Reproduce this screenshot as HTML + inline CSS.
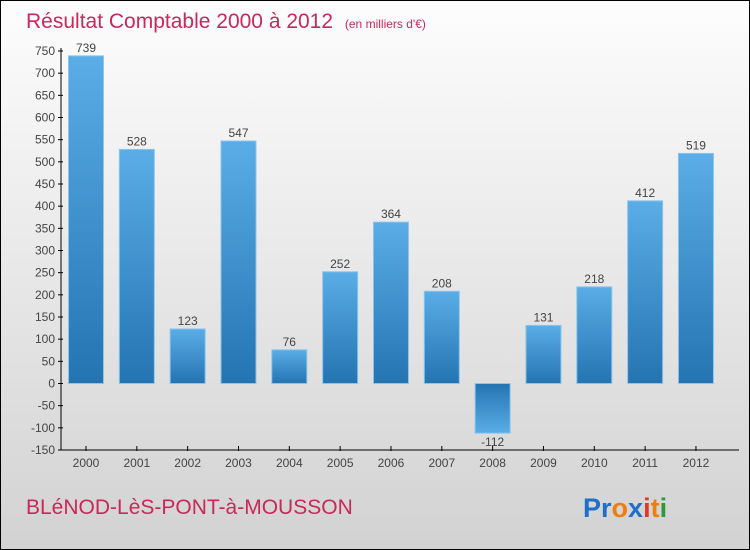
<!DOCTYPE html>
<html><head><meta charset="utf-8"><style>
html,body{margin:0;padding:0}
body{width:750px;height:550px;overflow:hidden;font-family:"Liberation Sans",sans-serif}
#wrap{position:relative;width:748px;height:548px;border:1px solid #000;background:linear-gradient(#fdfdfd,#d2d2d2)}
</style></head><body>
<div id="wrap">
<svg id="chart" width="748" height="548" style="position:absolute;left:0;top:0">
<defs>
<linearGradient id="bg" x1="0" y1="0" x2="0" y2="1"><stop offset="0" stop-color="#5aade6"/><stop offset="1" stop-color="#2474b2"/></linearGradient>
<linearGradient id="bgn" x1="0" y1="0" x2="0" y2="1"><stop offset="0" stop-color="#2474b2"/><stop offset="1" stop-color="#5aade6"/></linearGradient>
</defs>
<text x="25" y="27" font-size="21" fill="#c8285a">Résultat Comptable 2000 à 2012 <tspan font-size="12" dx="6">(en milliers d'€)</tspan></text>
<text x="25" y="513" font-size="21" fill="#c8285a">BLéNOD-LèS-PONT-à-MOUSSON</text>
<text x="582" y="516" font-size="27" font-weight="bold"><tspan fill="#1f6fc8">Pr</tspan><tspan fill="#f07d10">o</tspan><tspan fill="#1f6fc8">x</tspan><tspan fill="#e8351f">i</tspan><tspan fill="#f07d10">t</tspan><tspan fill="#2a9a3a">i</tspan></text>
<g id="plot"></g>
</svg>
</div>
<script>
const years=["2000","2001","2002","2003","2004","2005","2006","2007","2008","2009","2010","2011","2012"];
const values=[739,528,123,547,76,252,364,208,-112,131,218,412,519];
const ticks=[750,700,650,600,550,500,450,400,350,300,250,200,150,100,50,0,-50,-100,-150];
const NS="http://www.w3.org/2000/svg";
const g=document.getElementById('plot');
const y=v=>382.5-(v)*(332.5/750);
const x=i=>85+i*50.83;
function mk(t,a){const e=document.createElementNS(NS,t);for(const k in a)e.setAttribute(k,a[k]);g.appendChild(e);return e;}
let ax=mk('line',{x1:60,y1:y(750)-3,x2:60,y2:y(-150),stroke:'#000'});


let xa=mk('line',{x1:60,y1:y(-150),x2:738,y2:y(-150),stroke:'#000'});


ticks.forEach(t=>{
 mk('line',{x1:57,x2:62,y1:y(t),y2:y(t),stroke:'#000'});
 const l=mk('text',{x:54,y:y(t)+4,'font-size':12,'text-anchor':'end',fill:'#444'});
 l.textContent=t;
 
 
});
years.forEach((yr,i)=>{
 const v=values[i];
 mk('line',{x1:x(i),x2:x(i),y1:y(-150)-4,y2:y(-150)+1,stroke:'#000'});
 const top=Math.min(y(v),y(0)),h=Math.abs(y(v)-y(0));
 const r=mk('rect',{x:x(i)-17.5,y:top,width:35,height:h,fill:v<0?'url(#bgn)':'url(#bg)',stroke:'#8cc4ec','stroke-width':1});
 
 
 const vl=mk('text',{x:x(i),y:v<0?y(v)+13:y(v)-4,'font-size':12,'text-anchor':'middle',fill:'#444'});
 vl.textContent=v;
 
 
 const xl=mk('text',{x:x(i),y:466,'font-size':12,'text-anchor':'middle',fill:'#444'});
 xl.textContent=yr;
 
 
});
</script>
</body></html>
